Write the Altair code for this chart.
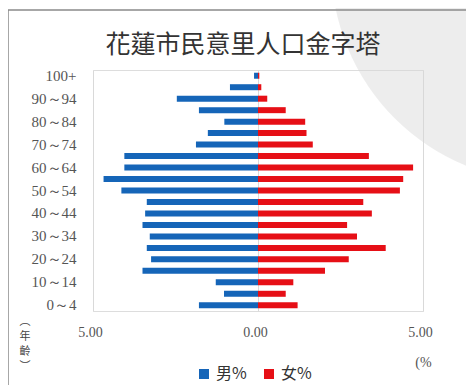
import altair as alt
import pandas as pd

ages = ["0～4", "5～9", "10～14", "15～19", "20～24", "25～29", "30～34",
        "35～39", "40～44", "45～49", "50～54", "55～59", "60～64", "65～69",
        "70～74", "75～79", "80～84", "85～89", "90～94", "95～99", "100+"]
male = [1.79, 1.03, 1.28, 3.50, 3.24, 3.37, 3.28, 3.50, 3.42, 3.37, 4.14,
        4.68, 4.05, 4.05, 1.88, 1.52, 1.02, 1.79, 2.46, 0.85, 0.12]
female = [1.20, 0.84, 1.07, 2.03, 2.75, 3.87, 3.00, 2.70, 3.45, 3.19, 4.30,
          4.40, 4.70, 3.36, 1.66, 1.47, 1.43, 0.84, 0.28, 0.10, 0.04]
series = ["男%", "女%"]
colors = ["#1565b8", "#e60f16"]
x_ticks = [-5, 0, 5]
shown_ages = ages[::2]
chart_title = "花蓮市民意里人口金字塔"
y_title = "︵\n年\n齡\n︶"

rows = []
for a, m, f in zip(ages, male, female):
    rows.append({"age": a, "series": series[0], "value": -m})
    rows.append({"age": a, "series": series[1], "value": f})
df = pd.DataFrame(rows)
labels_df = pd.DataFrame({"title": [chart_title], "ytitle": [y_title]})

serif = "Liberation Serif"

# faint watermark disc in the background
watermark = alt.Chart(labels_df).mark_point(
    filled=True, shape="circle", size=188000, color="#d6d6d6",
    opacity=0.45, strokeWidth=0).encode(x=alt.value(455), y=alt.value(-105))

bars = alt.Chart(df).mark_bar(size=6).encode(
    x=alt.X("value:Q",
            scale=alt.Scale(domain=[-5, 5], nice=False, zero=False),
            axis=alt.Axis(values=x_ticks, grid=True, gridColor="#d9d9d9",
                          gridWidth=1, ticks=False, domain=False,
                          labelFlush=False, labelOffset=-3,
                          labelExpr="format(abs(datum.value), '.2f')",
                          labelFont=serif, labelFontSize=14, labelColor="#555555",
                          labelPadding=14,
                          title="(%", titleFont=serif, titleFontSize=14,
                          titleFontWeight="normal", titleColor="#555555",
                          titleX=330, titleY=51, titleAlign="center",
                          titleBaseline="middle")),
    y=alt.Y("age:N", sort=list(reversed(ages)),
            scale=alt.Scale(paddingInner=0, paddingOuter=0),
            axis=alt.Axis(values=shown_ages, ticks=False, domain=False,
                          grid=False, labelFont=serif, labelFontSize=15,
                          labelColor="#555555", labelPadding=17, title=None)),
    color=alt.Color("series:N", sort=series,
                    scale=alt.Scale(domain=series, range=colors),
                    legend=alt.Legend(title=None, orient="none",
                                      direction="horizontal",
                                      legendX=103, legendY=296,
                                      symbolType="square", symbolSize=100,
                                      symbolStrokeWidth=0,
                                      labelFont="Noto Sans CJK TC",
                                      labelFontSize=16, labelColor="#333333",
                                      labelOffset=4, columnPadding=14)),
)

title_text = alt.Chart(labels_df).mark_text(
    font="Noto Sans CJK TC", fontSize=25, color="#333333",
    align="center", baseline="middle").encode(
    text="title:N", x=alt.value(150), y=alt.value(-25))

ytitle_text = alt.Chart(labels_df).mark_text(
    font="Noto Sans CJK TC", fontSize=11, color="#444444",
    align="center", baseline="top", lineBreak="\n", lineHeight=15).encode(
    text="ytitle:N", x=alt.value(-68), y=alt.value(246))

frame_left = alt.Chart(labels_df).mark_rule(color="#8a8a8a", strokeWidth=1.5).encode(
    x=alt.value(-85), y=alt.value(-60), y2=alt.value(330))
frame_top = alt.Chart(labels_df).mark_rule(color="#8a8a8a", strokeWidth=1.5).encode(
    x=alt.value(-85), x2=alt.value(400), y=alt.value(-60))

chart = alt.layer(watermark, bars, title_text, ytitle_text, frame_left, frame_top).properties(
    width=330, height=241,
    autosize="none",
    padding={"left": 85, "top": 62, "right": 43, "bottom": 74},
).configure_view(stroke=None).configure(background="white")

chart.save("out.html", embed_options={"renderer": "svg", "actions": False})
